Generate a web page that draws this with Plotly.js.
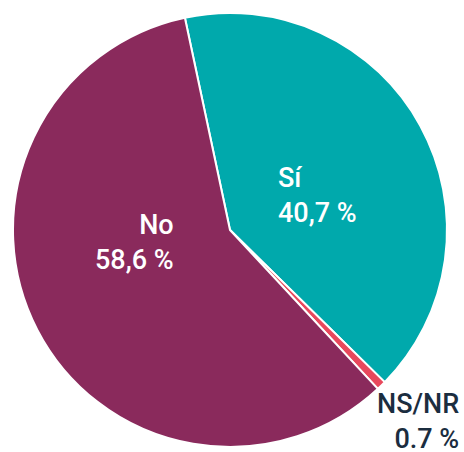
<!DOCTYPE html>
<html>
<head>
<meta charset="utf-8">
<script src="https://cdn.plot.ly/plotly-3.0.1.min.js"></script>
<style>html,body{margin:0;padding:0;background:#fff;}#chart{width:464px;height:452px;}</style>
</head>
<body>
<div id="chart"></div>
<script>
const categories = ["Sí", "NS/NR", "No"];
const values = [40.7, 0.7, 58.6];
const valueLabels = ["40,7 %", "0.7 %", "58,6 %"];
const colors = ["#00A9AC", "#E8485C", "#8A2A5C"];

const W = 464, H = 452;
const px = x => x / W;
const py = y => 1 - y / H;
const font = "Roboto, DejaVu Sans, sans-serif";

const trace = {
  type: "pie",
  labels: categories,
  values: values,
  sort: false,
  direction: "clockwise",
  rotation: -12,
  marker: {colors: colors, line: {color: "#ffffff", width: 2}},
  textinfo: "none",
  hoverinfo: "label+percent",
  domain: {x: [px(13), px(447)], y: [py(447), py(13)]},
  showlegend: false
};

const annotations = [
  {text: categories[0] + "<br>" + valueLabels[0], x: px(276), y: py(160), xanchor: "left", yanchor: "top", align: "left", color: "#ffffff"},
  {text: categories[2] + "<br>" + valueLabels[2], x: px(176), y: py(207), xanchor: "right", yanchor: "top", align: "right", color: "#ffffff"},
  {text: categories[1] + "<br>" + valueLabels[1], x: px(461), y: py(386), xanchor: "right", yanchor: "top", align: "right", color: "#1B2D3F"}
].map(a => ({
  text: a.text, x: a.x, y: a.y, xref: "paper", yref: "paper",
  xanchor: a.xanchor, yanchor: a.yanchor, align: a.align, showarrow: false,
  font: {family: font, size: 27, weight: 500, color: a.color}
}));

const layout = {
  width: W, height: H,
  margin: {l: 0, r: 0, t: 0, b: 0},
  paper_bgcolor: "#ffffff",
  annotations: annotations
};

Plotly.newPlot("chart", [trace], layout, {displayModeBar: false, staticPlot: true});
</script>
</body>
</html>
